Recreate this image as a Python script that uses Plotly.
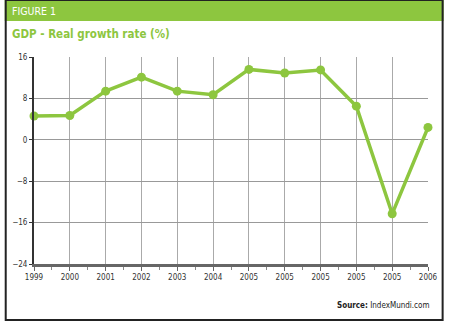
import plotly.graph_objects as go

tick_labels = ["1999", "2000", "2001", "2002", "2003", "2004", "2005", "2005", "2005", "2005", "2005", "2006"]
growth = [4.6, 4.7, 9.4, 12.1, 9.4, 8.7, 13.6, 12.9, 13.5, 6.5, -14.3, 2.4]
y_ticks = [16, 8, 0, -8, -16, -24]

GREEN = "#8dc63f"
FONT = "DejaVu Sans Condensed, Liberation Sans Narrow, sans-serif"

x = list(range(len(growth)))
PW, PH = 404, 207

fig = go.Figure()
fig.add_trace(go.Scatter(
    x=x, y=growth, mode="lines+markers",
    line=dict(color=GREEN, width=3.5),
    marker=dict(color=GREEN, size=9),
    cliponaxis=False,
))

fig.update_layout(
    width=450, height=321,
    margin=dict(l=30, r=16, t=57, b=57),
    paper_bgcolor="white", plot_bgcolor="white",
    showlegend=False,
    font=dict(family=FONT, size=8, color="#333"),
    shapes=[
        dict(type="rect", xref="paper", yref="paper", x0=-30/PW, x1=1+16/PW,
             y0=1+36/PH, y1=1+57/PH, fillcolor=GREEN, line_width=0, layer="below"),
        dict(type="rect", xref="paper", yref="paper", x0=-29/PW, x1=1+15/PW,
             y0=-56/PH, y1=1+57/PH, line=dict(color="#222", width=2), fillcolor="rgba(0,0,0,0)"),
    ],
    annotations=[
        dict(text="FIGURE 1", xref="paper", yref="paper", x=-25/PW, y=1+46/PH,
             xanchor="left", yanchor="middle", showarrow=False,
             font=dict(family=FONT, size=10.5, color="white")),
        dict(text="<b>GDP - Real growth rate (%)</b>", xref="paper", yref="paper",
             x=-25/PW, y=1+23/PH, xanchor="left", yanchor="middle", showarrow=False,
             font=dict(family=FONT, size=11.5, color=GREEN)),
        dict(text="<b>Source:</b> IndexMundi.com", xref="paper", yref="paper",
             x=1+4/PW, y=-41/PH, xanchor="right", yanchor="middle", showarrow=False,
             font=dict(family=FONT, size=8, color="#222")),
    ],
)

fig.update_xaxes(
    range=[0, len(growth) - 1], tickmode="array", tickvals=x, ticktext=tick_labels,
    showgrid=True, gridcolor="#aaa", gridwidth=1,
    showline=True, linecolor="#666", linewidth=2.5,
    ticks="outside", ticklen=4, tickcolor="#666",
    minor=dict(ticks="outside", ticklen=3, tickcolor="#888", dtick=0.5, tick0=0.5, showgrid=False),
    tickfont=dict(family=FONT, size=8, color="#333"),
    zeroline=False, fixedrange=True,
)
fig.update_yaxes(
    range=[-24, 16], tickmode="array", tickvals=y_ticks,
    showgrid=True, gridcolor="#999", gridwidth=1,
    showline=True, linecolor="#333", linewidth=2,
    ticks="outside", ticklen=3, tickcolor="#333",
    tickfont=dict(family=FONT, size=8, color="#333"),
    zeroline=False, fixedrange=True, mirror=False,
)

fig.write_html("out.html")
